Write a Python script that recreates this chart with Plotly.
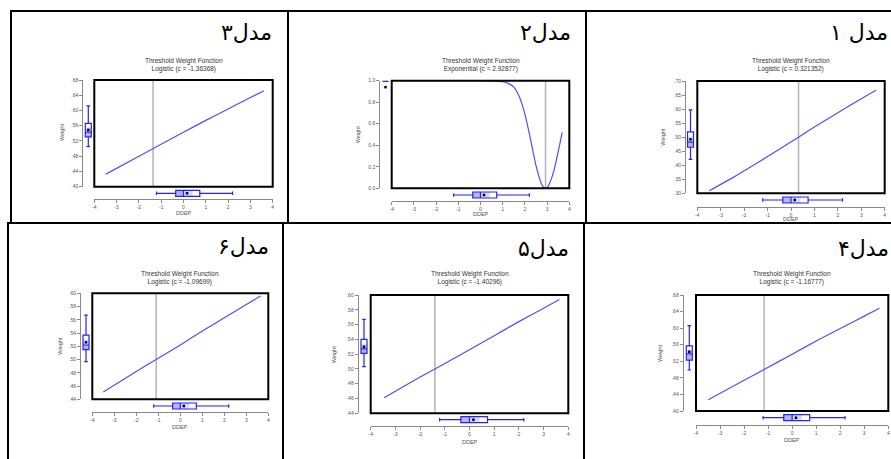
import plotly.graph_objects as go

W, H = 891, 459

# ---------------- data ----------------
panel_names = ["مدل ۱", "مدل۲", "مدل۳", "مدل۴", "مدل۵", "مدل۶"]
function_types = ["Logistic", "Exponential", "Logistic", "Logistic", "Logistic", "Logistic"]
threshold_c = [0.321352, 2.92877, -1.36368, -1.16777, -1.40296, -1.09699]

x_ticks = [-4, -3, -2, -1, 0, 1, 2, 3, 4]
x_ticklabels = ["-4", "-3", "-2", "-1", "0", "1", "2", "3", "4"]

y_ticks_1 = [0.30, 0.35, 0.40, 0.45, 0.50, 0.55, 0.60, 0.65, 0.70]
y_labels_1 = [".30", ".35", ".40", ".45", ".50", ".55", ".60", ".65", ".70"]
y_ticks_2 = [0.0, 0.2, 0.4, 0.6, 0.8, 1.0]
y_labels_2 = ["0.0", "0.2", "0.4", "0.6", "0.8", "1.0"]
y_ticks_34 = [0.40, 0.44, 0.48, 0.52, 0.56, 0.60, 0.64, 0.68]
y_labels_34 = [".40", ".44", ".48", ".52", ".56", ".60", ".64", ".68"]
y_ticks_56 = [0.44, 0.46, 0.48, 0.50, 0.52, 0.54, 0.56, 0.58, 0.60]
y_labels_56 = [".44", ".46", ".48", ".50", ".52", ".54", ".56", ".58", ".60"]

curve_x_1 = [-3.49, -2.5, -1.5, -0.5, 0.32, 1.0, 2.0, 3.0, 3.63]
curve_w_1 = [0.309, 0.355, 0.405, 0.457, 0.500, 0.536, 0.587, 0.637, 0.667]
curve_x_2 = [-3.5, -2.0, -1.0, 0.0, 0.5, 1.0, 1.25, 1.5, 1.75, 2.0, 2.25, 2.5, 2.75,
             2.85, 2.93, 3.0, 3.1, 3.3, 3.5, 3.68]
curve_w_2 = [1.0, 1.0, 1.0, 1.0, 0.999, 0.99, 0.975, 0.94, 0.85, 0.69, 0.46, 0.21, 0.04,
             0.008, 0.0, 0.006, 0.04, 0.16, 0.34, 0.52]
curve_x_3 = [-3.48, -2.0, -1.36, 0.0, 1.0, 2.0, 3.0, 3.61]
curve_w_3 = [0.433, 0.480, 0.500, 0.543, 0.574, 0.604, 0.634, 0.652]
curve_x_4 = [-3.49, -2.0, -1.17, 0.0, 1.0, 2.0, 3.0, 3.63]
curve_w_4 = [0.427, 0.474, 0.500, 0.537, 0.569, 0.599, 0.629, 0.648]
curve_x_5 = [-3.46, -2.0, -1.40, 0.0, 1.0, 2.0, 3.0, 3.64]
curve_w_5 = [0.461, 0.489, 0.500, 0.526, 0.545, 0.564, 0.582, 0.594]
curve_x_6 = [-3.5, -2.0, -1.10, 0.0, 1.0, 2.0, 3.0, 3.65]
curve_w_6 = [0.451, 0.482, 0.500, 0.522, 0.543, 0.563, 0.583, 0.596]

# DDEP distribution (horizontal box, same variable in every panel)
ddep_lower, ddep_q1, ddep_median, ddep_q3, ddep_upper, ddep_mean = -1.21, -0.35, 0.0, 0.73, 2.20, 0.16

# Weight distributions (vertical boxes), one per panel
weight_lower = [0.421, 1.0, 0.505, 0.499, 0.503, 0.497]
weight_q1 = [0.464, 1.0, 0.531, 0.523, 0.521, 0.515]
weight_median = [0.482, 1.0, 0.543, 0.538, 0.527, 0.522]
weight_q3 = [0.519, 1.0, 0.566, 0.557, 0.540, 0.537]
weight_upper = [0.597, 1.0, 0.612, 0.606, 0.567, 0.567]
weight_mean = [0.492, 0.94, 0.549, 0.543, 0.530, 0.526]

# ---------------- layout geometry (pixels) ----------------
geom = [
    dict(L=697.3, R=884.7, T=81, B=193.3, yl=685, vb=690.5, xl=206.7, hb=200, tx=791, ty=65.2,
         dy=219.2, wx=662.7, wy=137, nr=890, ny=33, yr=(0.30, 0.70), yt=y_ticks_1, yk=y_labels_1,
         cx=curve_x_1, cw=curve_w_1),
    dict(L=391.7, R=569.3, T=80.7, B=188.3, yl=379.3, vb=385.5, xl=201, hb=195, tx=480.5, ty=65.2,
         dy=214.3, wx=358.3, wy=135, nr=573, ny=33, yr=(0.0, 1.0), yt=y_ticks_2, yk=y_labels_2,
         cx=curve_x_2, cw=curve_w_2),
    dict(L=94.3, R=272.7, T=80, B=186.7, yl=82.3, vb=88.3, xl=199.3, hb=193.3, tx=183.5, ty=64.7,
         dy=212.7, wx=62, wy=133, nr=274, ny=33, yr=(0.40, 0.68), yt=y_ticks_34, yk=y_labels_34,
         cx=curve_x_3, cw=curve_w_3),
    dict(L=696, R=888.3, T=295, B=411, yl=682.7, vb=689.3, xl=425, hb=417.7, tx=792, ty=277.8,
         dy=439.5, wx=660, wy=354, nr=891, ny=248, yr=(0.40, 0.68), yt=y_ticks_34, yk=y_labels_34,
         cx=curve_x_4, cw=curve_w_4),
    dict(L=370.7, R=568.3, T=295, B=413.3, yl=357.7, vb=364, xl=426, hb=419.7, tx=469.5, ty=278.3,
         dy=441.5, wx=334.3, wy=355, nr=571, ny=248, yr=(0.44, 0.60), yt=y_ticks_56, yk=y_labels_56,
         cx=curve_x_5, cw=curve_w_5),
    dict(L=92.3, R=268.3, T=293.3, B=399.3, yl=80, vb=86, xl=412.3, hb=406, tx=180.3, ty=277.5,
         dy=426.5, wx=60, wy=346.7, nr=271, ny=246.7, yr=(0.44, 0.60), yt=y_ticks_56, yk=y_labels_56,
         cx=curve_x_6, cw=curve_w_6),
]

BLUE = "#4f4fff"
BOXBLUE = "#2323f5"
AXC = "#8a8a8a"
TXT = "#555555"
FONT = "Arial, Liberation Sans, sans-serif"


def px(x):
    return x / W


def py(y):
    return 1 - y / H


def aid(kind, n):
    return kind if n == 1 else f"{kind}{n}"


def akey(kind, n):
    return f"{kind}axis" if n == 1 else f"{kind}axis{n}"


fig = go.Figure()
layout = dict(width=W, height=H, margin=dict(l=0, r=0, t=0, b=0), template="none",
              paper_bgcolor="white", plot_bgcolor="rgba(0,0,0,0)", showlegend=False)
shapes = []
annotations = []

for i, g in enumerate(geom):
    n = i + 1
    xa, ya = aid("x", n), aid("y", n)
    xb, yb = aid("x", n + 6), aid("y", n + 6)
    tickstyle = dict(showline=True, linecolor=AXC, linewidth=1, ticks="outside", ticklen=3,
                     tickwidth=1, tickcolor=AXC, tickfont=dict(size=5, color=TXT, family=FONT),
                     showgrid=False, zeroline=False, fixedrange=True)
    layout[akey("x", n)] = dict(domain=[px(g["L"]), px(g["R"])], range=[-4, 4], anchor="free",
                                position=py(g["xl"]), tickvals=x_ticks, ticktext=x_ticklabels,
                                **tickstyle)
    layout[akey("y", n)] = dict(domain=[py(g["B"]), py(g["T"])], range=list(g["yr"]), anchor="free",
                                position=px(g["yl"]), tickvals=g["yt"], ticktext=g["yk"], **tickstyle)
    layout[akey("y", n + 6)] = dict(domain=[py(g["hb"] + 5), py(g["hb"] - 5)], range=[-0.5, 0.5],
                                    visible=False, anchor="free", position=0, fixedrange=True)
    layout[akey("x", n + 6)] = dict(domain=[px(g["vb"] - 5), px(g["vb"] + 5)], range=[-0.5, 0.5],
                                    visible=False, anchor="free", position=0, fixedrange=True)

    # threshold line
    c = threshold_c[i]
    shapes.append(dict(type="line", xref=xa, yref=f"{ya} domain", x0=c, x1=c, y0=0, y1=1,
                       line=dict(color="#b4b4b4", width=1.5), layer="below"))
    # frame
    shapes.append(dict(type="rect", xref=f"{xa} domain", yref=f"{ya} domain", x0=0, x1=1, y0=0, y1=1,
                       line=dict(color="black", width=2)))

    # weight curve
    fig.add_trace(go.Scatter(x=g["cx"], y=g["cw"], mode="lines", xaxis=xa, yaxis=ya,
                             line=dict(color=BLUE, width=1.2, shape="spline", smoothing=0.6),
                             hoverinfo="skip"))

    # horizontal DDEP box
    shapes.append(dict(type="rect", xref=xa, yref=yb, x0=ddep_q1, x1=ddep_median, y0=-0.3, y1=0.3,
                       fillcolor="#b4b4ff", line=dict(width=0), layer="below"))
    shapes.append(dict(type="rect", xref=xa, yref=yb, x0=ddep_median,
                       x1=ddep_median + 0.55 * (ddep_q3 - ddep_median), y0=-0.3, y1=0.3,
                       fillcolor="#d8d8ff", line=dict(width=0), layer="below"))
    fig.add_trace(go.Box(y=[0], q1=[ddep_q1], median=[ddep_median], q3=[ddep_q3],
                         lowerfence=[ddep_lower], upperfence=[ddep_upper], orientation="h",
                         xaxis=xa, yaxis=yb, width=0.6, whiskerwidth=0.6, boxpoints=False,
                         line=dict(color=BOXBLUE, width=1.2), fillcolor="rgba(0,0,0,0)",
                         hoverinfo="skip"))
    fig.add_trace(go.Scatter(x=[ddep_mean], y=[0], mode="markers", xaxis=xa, yaxis=yb,
                             marker=dict(symbol="square", size=2.5, color="black"), hoverinfo="skip"))

    # vertical Weight box
    q1, md, q3 = weight_q1[i], weight_median[i], weight_q3[i]
    shapes.append(dict(type="rect", xref=xb, yref=ya, x0=-0.3, x1=0.3, y0=q1, y1=md,
                       fillcolor="#b4b4ff", line=dict(width=0), layer="below"))
    shapes.append(dict(type="rect", xref=xb, yref=ya, x0=-0.3, x1=0.3, y0=md, y1=md + 0.55 * (q3 - md),
                       fillcolor="#d8d8ff", line=dict(width=0), layer="below"))
    fig.add_trace(go.Box(x=[0], q1=[q1], median=[md], q3=[q3], lowerfence=[weight_lower[i]],
                         upperfence=[weight_upper[i]], orientation="v", xaxis=xb, yaxis=ya,
                         width=0.6, whiskerwidth=0.6, boxpoints=False,
                         line=dict(color=BOXBLUE, width=1.2 if n != 2 else 2.5),
                         fillcolor="rgba(0,0,0,0)", hoverinfo="skip"))
    fig.add_trace(go.Scatter(x=[0], y=[weight_mean[i]], mode="markers", xaxis=xb, yaxis=ya,
                             marker=dict(symbol="square", size=2.5, color="black"), hoverinfo="skip",
                             cliponaxis=False))

    # texts
    annotations.append(dict(xref="paper", yref="paper", x=px(g["tx"]), y=py(g["ty"]),
                            text=f"Threshold Weight Function<br>{function_types[i]} (c = {c:g})",
                            showarrow=False, xanchor="center", yanchor="middle",
                            font=dict(size=6.5, color="#333", family=FONT)))
    annotations.append(dict(xref="paper", yref="paper", x=px((g["L"] + g["R"]) / 2), y=py(g["dy"]),
                            text="DDEP", showarrow=False, xanchor="center", yanchor="middle",
                            font=dict(size=5.5, color=TXT, family=FONT)))
    annotations.append(dict(xref="paper", yref="paper", x=px(g["wx"]), y=py(g["wy"]),
                            text="Weight", showarrow=False, xanchor="center", yanchor="middle",
                            textangle=-90, font=dict(size=5.5, color=TXT, family=FONT)))
    annotations.append(dict(xref="paper", yref="paper", x=px(g["nr"]), y=py(g["ny"]),
                            text=panel_names[i], showarrow=False, xanchor="right", yanchor="middle",
                            font=dict(size=22, color="black", family="DejaVu Sans")))

# table borders
border = dict(color="black", width=2)
for (x0, y0, x1, y1) in [(10, 11, 891, 11), (11, 10, 11, 224), (288, 10, 288, 224), (586, 10, 586, 224),
                         (7, 223, 891, 223), (8, 222, 8, 459), (283, 222, 283, 459), (584, 222, 584, 459)]:
    shapes.append(dict(type="line", xref="paper", yref="paper", x0=px(x0), x1=px(x1), y0=py(y0), y1=py(y1),
                       line=border))

layout["shapes"] = shapes
layout["annotations"] = annotations
fig.update_layout(**layout)
fig.write_html("out.html", config={"displayModeBar": False, "staticPlot": True},
               post_script="document.body.style.margin='0';document.body.style.overflow='hidden';")
